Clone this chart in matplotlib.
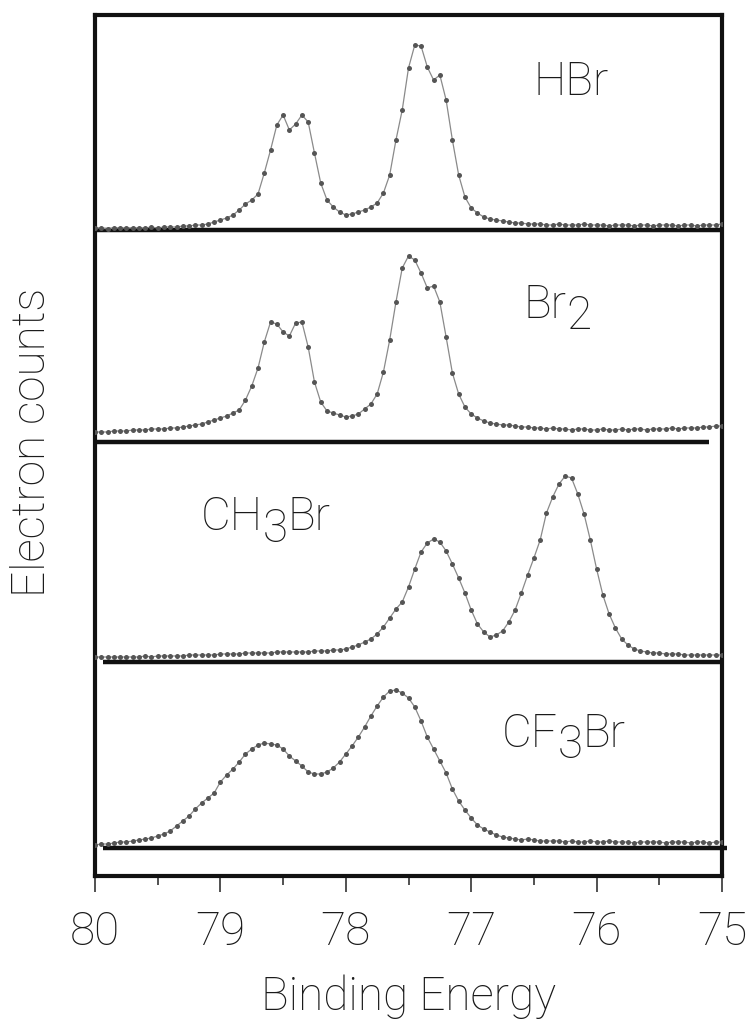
"""Br 3d photoelectron spectra of HBr, Br2, CH3Br and CF3Br, stacked on one energy axis."""
import numpy as np
import matplotlib; matplotlib.use("Agg")
import matplotlib.pyplot as plt

plt.rcParams["font.family"] = ["Roboto", "DejaVu Sans"]

# binding energy grid (eV), 80 -> 75 in 0.05 steps
energy = np.round(np.linspace(80, 75, 101), 2)

# counts (arb. units) above each trace's baseline
hbr = [2, 2, 1, 2, 2, 2, 2, 2, 2, 3, 2, 3, 3, 3, 4, 4, 5, 5, 6, 8,
       10, 12, 15, 20, 26, 30, 36, 57, 80, 105, 115, 100, 106, 115, 108, 77, 47, 30, 23, 18,
       15, 16, 18, 20, 23, 27, 37, 55, 90, 120, 162, 185, 184, 163, 150, 155, 130, 90, 55, 33,
       22, 17, 13, 11, 10, 9, 8, 7, 7, 6, 6, 6, 5, 5, 6, 5, 5, 5, 6, 5,
       5, 5, 4, 5, 5, 5, 4, 5, 5, 4, 5, 5, 5, 4, 5, 5, 4, 5, 5, 5, 6]
br2 = [10, 10, 10, 11, 11, 11, 12, 12, 12, 13, 13, 13, 14, 14, 15, 16, 17, 18, 20, 22,
       24, 26, 29, 32, 42, 56, 74, 100, 120, 118, 110, 106, 119, 120, 95, 60, 40, 31, 29, 27,
       25, 26, 28, 33, 38, 48, 70, 102, 140, 174, 186, 182, 169, 154, 156, 140, 105, 69, 48, 35,
       28, 24, 21, 19, 18, 17, 17, 16, 15, 15, 14, 14, 13, 14, 13, 13, 12, 13, 13, 12,
       12, 13, 12, 12, 13, 12, 13, 13, 12, 13, 13, 13, 14, 13, 14, 14, 14, 15, 15, 16, 16]
ch3br = [5, 5, 5, 5, 5, 5, 5, 5, 6, 5, 6, 6, 6, 6, 6, 7, 7, 7, 7, 7,
         8, 8, 8, 8, 9, 9, 9, 9, 9, 10, 10, 10, 10, 10, 10, 11, 11, 11, 12, 12,
         13, 15, 17, 20, 23, 28, 35, 44, 53, 60, 75, 93, 110, 119, 123, 120, 111, 98, 84, 69,
         52, 38, 30, 25, 27, 31, 40, 52, 69, 87, 104, 122, 149, 165, 178, 186, 184, 168, 148, 122,
         93, 67, 48, 34, 23, 17, 13, 11, 10, 9, 9, 8, 8, 8, 7, 7, 7, 7, 7, 7, 7]
cf3br = [3, 4, 4, 5, 6, 6, 7, 8, 9, 10, 12, 14, 17, 22, 27, 32, 39, 45, 50, 55,
         66, 73, 79, 86, 94, 99, 103, 105, 104, 103, 99, 92, 87, 82, 76, 74, 74, 76, 80, 86,
         94, 102, 111, 121, 132, 142, 151, 157, 158, 155, 150, 141, 127, 111, 99, 87, 75, 59, 47, 38,
         30, 23, 19, 16, 13, 11, 10, 9, 8, 9, 8, 7, 7, 7, 7, 6, 7, 6, 6, 7,
         6, 6, 7, 6, 6, 6, 5, 6, 6, 6, 6, 5, 6, 6, 6, 5, 6, 6, 5, 6, 6]

names = ["HBr", "Br2", "CH3Br", "CF3Br"]
spectra = [hbr, br2, ch3br, cf3br]

# vertical placement of each trace (axis units) and extent of its baseline rule
OFFSET = {"HBr": 646, "Br2": 434, "CH3Br": 214, "CF3Br": 28}
RULE = {"HBr": (80, 75), "Br2": (80, 75.1), "CH3Br": (79.94, 75), "CF3Br": (79.94, 74.96)}
# label pieces (text, drop below baseline in px) and anchor (energy, axis y of baseline)
LABEL = {"HBr": ([("HBr", 0)], (76.50, 781)),
         "Br2": ([("Br", 0), ("2", 11)], (76.58, 558)),
         "CH3Br": ([("CH", 0), ("3", 12), ("Br", 0)], (79.16, 346)),
         "CF3Br": ([("CF", 0), ("3", 11), ("Br", 0)], (76.76, 129))}

FS = 33
TXT = dict(fontsize=FS, fontweight="light", color="#1a1a1a")


def main():
    fig = plt.figure(figsize=(7.55, 10.26), dpi=100)
    W, H = 755, 1026
    l, r, top, bot = 95, 722, 15, 876
    ax = fig.add_axes([l / W, 1 - bot / H, (r - l) / W, (bot - top) / H])
    ax.set_xlim(80, 75); ax.set_ylim(0, bot - top)

    for n, c in zip(names, spectra):
        off = OFFSET[n]
        x0, x1 = RULE[n]
        ax.plot([x0, x1], [off, off], color="#111111", lw=3.2, solid_capstyle="butt",
                clip_on=False, zorder=2)
        y = off + np.asarray(c, float)
        ax.plot(energy, y, color="#8a8a8a", lw=0.9, zorder=3)
        ax.plot(energy, y, ls="none", marker="o", ms=3.6, mfc="#555555", mec="#555555",
                mew=0, zorder=4)
        # chemical formula, subscripts dropped below the baseline
        pieces, pos = LABEL[n]
        first = prev = None
        for s, drop in pieces:
            if first is None:
                first = prev = ax.text(pos[0], pos[1], s, ha="left", va="baseline", **TXT)
                continue
            prev = ax.annotate(s, xy=(1, 0), xycoords=(prev, first),
                               xytext=(0, -drop * 0.72), textcoords="offset points",
                               ha="left", va="bottom", **TXT)

    for s in ax.spines.values():
        s.set_linewidth(3.0); s.set_color("#111111")
    ax.set_yticks([])
    ax.set_xticks([80, 79, 78, 77, 76, 75])
    ax.set_xticks(np.arange(75, 80, 0.5), minor=True)
    ax.tick_params(axis="x", which="major", length=11.5, width=1.2, pad=13, labelsize=FS,
                   color="#333333", labelcolor="#1a1a1a")
    ax.tick_params(axis="x", which="minor", length=6.5, width=1.2, color="#333333")
    for t in ax.get_xticklabels():
        t.set_fontweight("light")

    fig.text(409 / W, 1 - 1010 / H, "Binding Energy", ha="center", va="baseline", **TXT)
    fig.text(32 / W, 1 - 442 / H, "Electron counts", ha="center", va="center",
             rotation=90, **TXT)
    fig.savefig("out.png", dpi=100)


if __name__ == "__main__":
    main()
